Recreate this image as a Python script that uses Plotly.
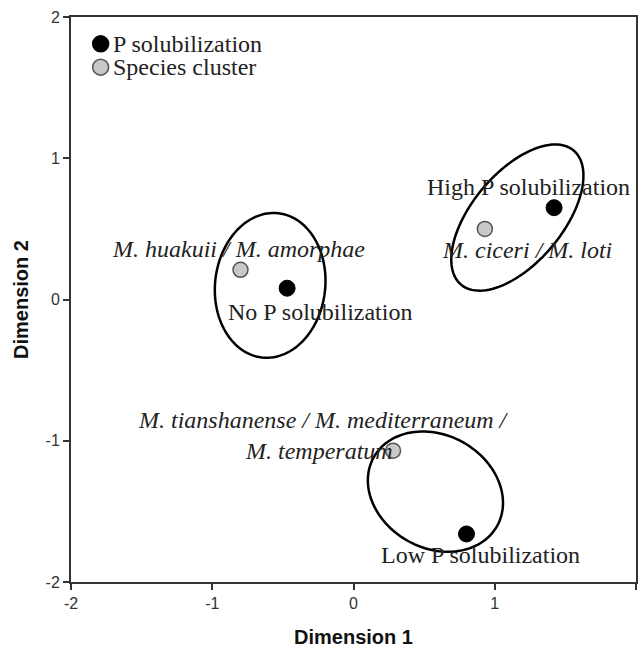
import numpy as np
import plotly.graph_objects as go

# ---- data ----
p_labels = ["High P solubilization", "No P solubilization", "Low P solubilization"]
p_x = [1.42, -0.47, 0.80]
p_y = [0.65, 0.08, -1.66]

sp_labels = ["M. ciceri / M. loti", "M. huakuii / M. amorphae",
             "M. tianshanense / M. mediterraneum /<br>M. temperatum"]
sp_x = [0.93, -0.80, 0.28]
sp_y = [0.50, 0.21, -1.07]

# ellipses: center x, center y, semi-major, semi-minor, angle (deg)
ell_cx = [1.16, -0.59, 0.58]
ell_cy = [0.58, 0.10, -1.36]
ell_a = [0.62, 0.514, 0.50]
ell_b = [0.32, 0.39, 0.40]
ell_ang = [50, 83.5, -29]

tick_vals = [-2, -1, 0, 1, 2]
tick_text = ["-2", "-1", "0", "1", "2"]

SERIF = "Liberation Serif, Times New Roman, serif"
SANS = "Liberation Sans, Arial, sans-serif"
FS = 24
TXT = "#222222"

fig = go.Figure()
fig.add_trace(go.Scatter(x=p_x, y=p_y, mode="markers", name="P solubilization",
                         marker=dict(size=16, color="black", line=dict(color="black", width=1)),
                         showlegend=False))
fig.add_trace(go.Scatter(x=sp_x, y=sp_y, mode="markers", name="Species cluster",
                         marker=dict(size=15, color="#c8c8c8", line=dict(color="#555555", width=1.5)),
                         showlegend=False))

# ellipse outlines
shapes = []
t = np.linspace(0, 2 * np.pi, 121)
for cx, cy, a, b, ang in zip(ell_cx, ell_cy, ell_a, ell_b, ell_ang):
    th = np.deg2rad(ang)
    ex = cx + a * np.cos(t) * np.cos(th) - b * np.sin(t) * np.sin(th)
    ey = cy + a * np.cos(t) * np.sin(th) + b * np.sin(t) * np.cos(th)
    path = "M " + " L ".join(f"{u:.4f},{v:.4f}" for u, v in zip(ex, ey)) + " Z"
    shapes.append(dict(type="path", path=path, xref="x", yref="y",
                       line=dict(color="black", width=2.5), layer="above"))

# legend (manual)
leg_x = -1.79
leg_y = [1.81, 1.645]
leg_fill = ["black", "#c8c8c8"]
leg_line = ["black", "#555555"]
leg_text = ["P solubilization", "Species cluster"]
annotations = []
for ly, fc, lc, lt in zip(leg_y, leg_fill, leg_line, leg_text):
    shapes.append(dict(type="circle", xref="x", yref="y", xsizemode="pixel", ysizemode="pixel",
                       xanchor=leg_x, yanchor=ly, x0=-8, x1=8, y0=-8, y1=8,
                       fillcolor=fc, line=dict(color=lc, width=1.5)))
    annotations.append(dict(x=leg_x, y=ly, xref="x", yref="y", text=lt, showarrow=False,
                            xanchor="left", yanchor="middle", xshift=10,
                            font=dict(family=SERIF, size=FS, color=TXT)))

# point labels (pixel offsets)
p_shift = [(-26, 21), (33, -24), (14, -21)]
for x, y, lab, (dx, dy) in zip(p_x, p_y, p_labels, p_shift):
    annotations.append(dict(x=x, y=y, xref="x", yref="y", text=lab, showarrow=False,
                            xshift=dx, yshift=dy, font=dict(family=SERIF, size=FS, color=TXT)))

sp_shift = [(42, -21), (-2, 21), (-70, 31)]
for x, y, lab, (dx, dy) in zip(sp_x, sp_y, sp_labels, sp_shift):
    lines = lab.split("<br>")
    annotations.append(dict(x=x, y=y, xref="x", yref="y", text=f"<i>{lines[0]}</i>", showarrow=False,
                            xshift=dx, yshift=dy,
                            font=dict(family=SERIF, size=FS, color=TXT)))
    if len(lines) > 1:
        annotations.append(dict(x=x, y=y, xref="x", yref="y", text=f"<i>{lines[1]}</i>", showarrow=False,
                                xanchor="right", xshift=2, yshift=0,
                                font=dict(family=SERIF, size=FS, color=TXT)))

axis_common = dict(range=[-2, 2], tickvals=tick_vals, ticktext=tick_text, showgrid=False,
                   zeroline=False, showline=True, linecolor="#333333", linewidth=2, mirror=True,
                   ticks="outside", ticklen=6, tickwidth=2, tickcolor="#333333",
                   tickfont=dict(family=SANS, size=16, color="#333"))

fig.update_layout(
    width=639, height=648,
    margin=dict(l=71, r=1, t=17, b=66),
    paper_bgcolor="white", plot_bgcolor="white",
    xaxis=dict(**axis_common, title=dict(text="<b>Dimension 1</b>", standoff=21,
                                         font=dict(family=SANS, size=20, color="#111"))),
    yaxis=dict(**axis_common, title=dict(text="<b>Dimension 2</b>", standoff=12,
                                         font=dict(family=SANS, size=20, color="#111"))),
    shapes=shapes, annotations=annotations, showlegend=False,
)

fig.write_html("out.html")
